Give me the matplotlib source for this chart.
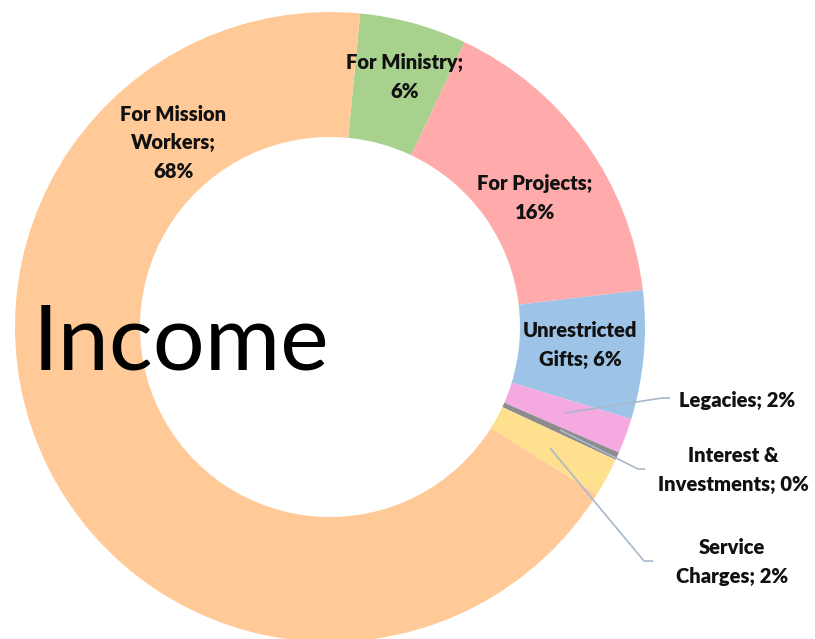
import matplotlib
matplotlib.use("Agg")
import matplotlib.pyplot as plt

# income split (percent), clockwise from the top
categories = ["For Ministry", "For Projects", "Unrestricted Gifts", "Legacies",
              "Interest & Investments", "Service Charges", "For Mission Workers"]
shares = [5.5, 16.1, 6.6, 1.8, 0.4, 2.0, 67.6]
shown_pct = ["6%", "16%", "6%", "2%", "0%", "2%", "68%"]
colours = ["#A9D18E", "#FFABAB", "#9DC3E6", "#F4A9E0", "#8C8C8C", "#FFE08F", "#FFCA97"]

plt.rcParams['font.family'] = ['Lato', 'DejaVu Sans']

W, H = 815, 639
fig = plt.figure(figsize=(W / 100, H / 100), dpi=100)
ax = fig.add_axes([0, 0, 1, 1])

cx, cy, R = 330, H - 327, 315
ax.pie(shares, colors=colours, startangle=84.5, counterclock=False,
       center=(cx, cy), radius=R,
       wedgeprops=dict(width=125, edgecolor="none"))
ax.set_xlim(0, W)
ax.set_ylim(0, H)
ax.set_aspect("equal")
ax.axis("off")

lab_kw = dict(fontsize=14.5, fontweight="heavy", ha="center", va="center",
              color="#111111", linespacing=1.6)

# labels (image pixel positions, y measured from the top)
label_pos = {
    "For Mission Workers": (173, 143, "For Mission\nWorkers;\n{}"),
    "For Ministry": (405, 77, "For Ministry;\n{}"),
    "For Projects": (535, 198, "For Projects;\n{}"),
    "Unrestricted Gifts": (580, 345, "Unrestricted\nGifts; {}"),
    "Legacies": (737, 400, "Legacies; {}"),
    "Interest & Investments": (733, 470, "Interest &\nInvestments; {}"),
    "Service Charges": (732, 562, "Service\nCharges; {}"),
}
for name, pct in zip(categories, shown_pct):
    x, y, fmt = label_pos[name]
    ax.text(x, H - y, fmt.format(pct), **lab_kw)

# leader lines for the thin slices
leaders = [
    [(565, 413), (662, 398), (670, 398)],
    [(560, 430), (638, 469), (645, 469)],
    [(550, 448), (644, 561), (653, 561)],
]
for pts in leaders:
    xs = [p[0] for p in pts]
    ys = [H - p[1] for p in pts]
    ax.plot(xs, ys, color="#A9B8CC", lw=1.2, solid_capstyle="butt")

ax.text(33, H - 370, "Income", fontsize=66, ha="left", va="baseline",
        color="black")

fig.savefig("out.png", dpi=100)
